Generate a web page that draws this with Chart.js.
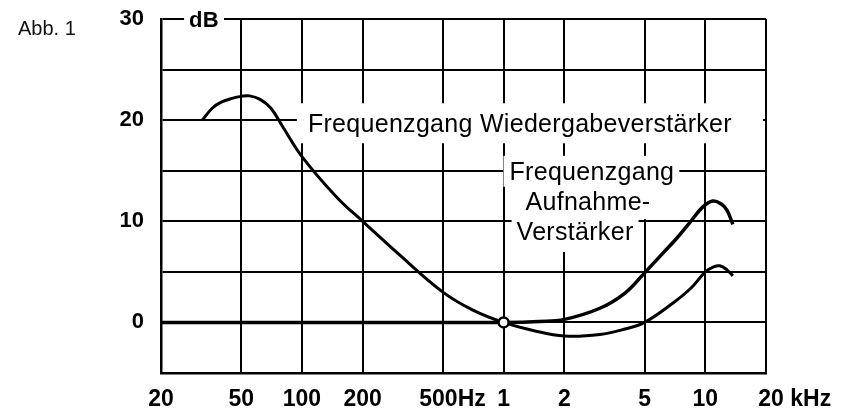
<!DOCTYPE html>
<html>
<head>
<meta charset="utf-8">
<script src="https://cdn.jsdelivr.net/npm/chart.js@4.4.1/dist/chart.umd.min.js"></script>
<style>
  html, body { margin: 0; padding: 0; background: #fff; }
  #wrap { width: 853px; height: 409px; }
</style>
</head>
<body>
<div id="wrap"><canvas id="freqChart" width="853" height="409"></canvas></div>
<script>
// x ticks (Hz) and their printed labels
const freqTicks = [20, 50, 100, 200, 500, 1000, 2000, 5000, 10000, 20000];
const freqTickLabels = ['20', '50', '100', '200', '   500Hz', '1', '2', '5', '10', '         20 kHz'];

// Frequenzgang Wiedergabeverstärker
const playbackFreq = [32, 36, 40, 45, 50, 55, 62, 70, 80, 100, 150, 200, 300, 500, 700, 1000,
  1400, 2000, 3000, 4000, 5000, 7000, 8500, 10000, 11000, 11800, 12800, 13700];
const playbackDb = [20, 21.2, 21.8, 22.15, 22.35, 22.4, 22.05, 21.2, 19.4, 16.4, 12.3, 10, 6.8, 3, 1.25, 0,
  -0.8, -1.35, -1.2, -0.65, 0, 2.0, 3.4, 5, 5.5, 5.6, 5.2, 4.6];

// Frequenzgang Aufnahme-Verstärker
const recordFreq = [20, 100, 500, 1000, 1500, 2000, 3000, 4000, 5000, 6200, 7200, 8400, 9700, 10900, 12000, 12800, 13700];
const recordDb = [0, 0, 0, 0, 0.1, 0.3, 1.4, 2.9, 4.9, 6.9, 8.3, 9.9, 11.4, 12, 11.7, 11.1, 9.7];

// reference point 1 kHz / 0 dB
const refFreq = [1000];
const refDb = [0];

const toPoints = (xs, ys) => xs.map((v, i) => ({ x: v, y: ys[i] }));

const FONT = '"Liberation Sans", Arial, sans-serif';
Chart.defaults.font.family = FONT;
Chart.defaults.color = '#000';

// text labels on the chart, placed in data coordinates
const chartNotes = [
  { text: 'dB', f: 32.7, db: 29.2, align: 'center', font: 'bold 22px ' + FONT, cap: 16, pad: [6, 5, 6, 5] },
  { text: 'Frequenzgang Wiedergabeverstärker', f: 107, db: 18.8, align: 'left', font: '25px ' + FONT, cap: 18, pad: [11, 0, 11, 11], toRight: true },
  { text: 'Frequenzgang', f: 2740, db: 14.1, align: 'center', font: '25px ' + FONT, cap: 18, pad: [6, 5, 7, 6] },
  { text: 'Aufnahme-', f: 2620, db: 11.1, align: 'center', font: '25px ' + FONT, cap: 18, pad: [6, 5, 9, 5] },
  { text: 'Verstärker', f: 2260, db: 8.15, align: 'center', font: '25px ' + FONT, cap: 18, pad: [6, 5, 12, 5] }
];

const notesPlugin = {
  id: 'notes',
  beforeDatasetsDraw(chart) {
    const { ctx, scales, chartArea } = chart;
    ctx.save();
    ctx.letterSpacing = '0.3px';
    chartNotes.forEach((n) => {
      ctx.font = n.font;
      const w = ctx.measureText(n.text).width;
      const px = scales.x.getPixelForValue(n.f);
      const py = scales.y.getPixelForValue(n.db);
      const left = n.align === 'center' ? px - w / 2 : px;
      const boxL = left - n.pad[3];
      const boxR = n.toRight ? chartArea.right - 3 : left + w + n.pad[1];
      ctx.fillStyle = '#fff';
      ctx.fillRect(boxL, py - n.cap - n.pad[0], boxR - boxL, n.cap + n.pad[0] + n.pad[2]);
      ctx.fillStyle = '#000';
      ctx.textAlign = 'left';
      ctx.textBaseline = 'alphabetic';
      ctx.fillText(n.text, left, py);
    });
    ctx.restore();
  },
  afterDraw(chart) {
    const ctx = chart.ctx;
    ctx.save();
    ctx.font = '20px ' + FONT;
    ctx.fillStyle = '#111';
    ctx.textAlign = 'left';
    ctx.textBaseline = 'alphabetic';
    ctx.fillText('Abb. 1', 18, 35);
    ctx.restore();
  }
};

const ctx = document.getElementById('freqChart').getContext('2d');

new Chart(ctx, {
  type: 'line',
  data: {
    datasets: [
      {
        label: '1 kHz',
        data: toPoints(refFreq, refDb),
        showLine: false,
        pointRadius: 5,
        pointBorderWidth: 2.5,
        pointBackgroundColor: '#fff',
        pointBorderColor: '#000',
        order: 0
      },
      {
        label: 'Frequenzgang Wiedergabeverstärker',
        data: toPoints(playbackFreq, playbackDb),
        borderColor: '#000',
        borderWidth: 3,
        pointRadius: 0,
        tension: 0.4,
        fill: false,
        order: 1
      },
      {
        label: 'Frequenzgang Aufnahme-Verstärker',
        data: toPoints(recordFreq, recordDb),
        borderColor: '#000',
        borderWidth: 3.5,
        pointRadius: 0,
        tension: 0.4,
        fill: false,
        order: 2
      }
    ]
  },
  options: {
    responsive: false,
    animation: false,
    events: [],
    layout: { padding: { left: 0, right: 87, top: 19, bottom: 0 } },
    plugins: {
      legend: { display: false },
      tooltip: { enabled: false },
      title: { display: false }
    },
    scales: {
      x: {
        type: 'logarithmic',
        min: 20,
        max: 20000,
        afterBuildTicks: (scale) => {
          scale.ticks = freqTicks.map((v) => ({ value: v }));
        },
        afterFit: (scale) => {
          scale.height = 36;
          scale.paddingLeft = 0;
          scale.paddingRight = 0;
        },
        ticks: {
          autoSkip: false,
          maxRotation: 0,
          padding: 13,
          font: { size: 23, weight: 'bold' },
          callback: (value, index) => freqTickLabels[index]
        },
        grid: { color: '#000', lineWidth: 2, drawTicks: false },
        border: { color: '#000', width: 2.5 }
      },
      y: {
        min: -5,
        max: 30,
        afterFit: (scale) => {
          scale.width = 161;
          scale.paddingTop = 0;
          scale.paddingBottom = 0;
        },
        ticks: {
          stepSize: 5,
          padding: 17,
          font: { size: 22, weight: 'bold' },
          callback: (value) => (value % 10 === 0 ? value : '')
        },
        grid: { color: '#000', lineWidth: 2, drawTicks: false },
        border: { color: '#000', width: 2.5 }
      }
    }
  },
  plugins: [notesPlugin]
});
</script>
</body>
</html>
